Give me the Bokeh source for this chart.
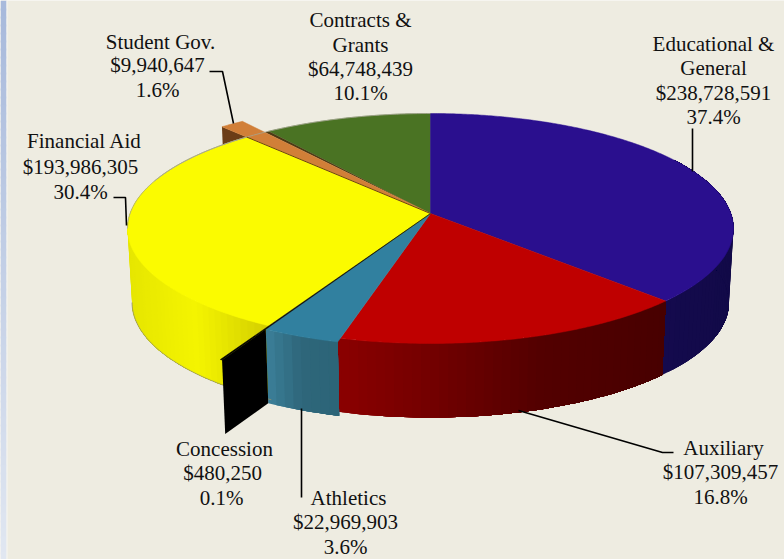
import numpy as np
from bokeh.core.properties import value
from bokeh.embed import file_html
from bokeh.models import Range1d
from bokeh.plotting import figure
from bokeh.resources import INLINE

# Budget by category, clockwise from twelve o'clock
names = ["Educational & General", "Auxiliary", "Athletics", "Concession",
         "Financial Aid", "Student Gov.", "Contracts & Grants"]
amounts = [238728591, 107309457, 22969903, 480250, 193986305, 9940647, 64748439]

top_colors = ["#2a0f8e", "#bf0000", "#31809f", "#000000", "#fbfb00", "#d17f38", "#4a7323"]
radius_scale = [1.0, 1.0, 1.025, 1.2575, 1.0, 1.15, 1.0]

# Label placement: name lines, centre x and centre y of every line
label_lines = [["Educational &", "General"], ["Auxiliary"], ["Athletics"], ["Concession"],
               ["Financial Aid"], ["Student Gov."], ["Contracts &", "Grants"]]
label_x = [[713, 713, 713, 713], [723, 720, 720], [348, 345, 345], [224, 222, 221],
           [84, 80, 80], [160, 157, 157], [360, 360, 360, 360]]
label_y = [[43, 67, 92, 116], [447, 471, 496], [497, 521, 546], [448, 472, 497],
           [140, 166, 191], [41, 64, 89], [19, 44, 68, 92]]

# Leader lines from the labels to the pie
leaders = [([692, 692], [128, 171]),
           ([518, 662, 673], [410, 452, 452]),
           ([301, 301], [408, 497]),
           ([113, 125, 126], [197, 197, 225]),
           ([209, 222, 233], [71, 71, 123])]

# Shaded side wall: (pixel x, colour) stops per slice
wall_stops = {
    0: [(660, "#140a4e"), (733, "#120a48")],
    1: [(340, "#8a0000"), (430, "#730000"), (540, "#530000"), (665, "#480000")],
    2: [(266, "#3b7f98"), (300, "#2e667a"), (340, "#2c6578")],
    4: [(127, "#e6e600"), (195, "#f4f400"), (265, "#d4d000")],
}

BG = "#eeece1"
CX, CY = 430.0, 213.0
A, B, K = 300.4, 113.04, 0.1304
DEPTH, BOTTOM_SCALE = 74.0, 0.985
SILHOUETTE_LEFT = 262.5
ORANGE_INSET = 1.0
WALL_TUCK = 1.5


def project(theta_deg, r=1.0):
    """Perspective view of a point on the tilted disc; theta runs clockwise from the back."""
    t = np.radians(theta_deg)
    u, v = r * np.sin(t), r * np.cos(t)
    w = 1 + K * v
    return CX + A * u / w, CY - B * v / w


def drop(x, y):
    """The same point on the lower face of the disc."""
    return CX + (x - CX) * BOTTOM_SCALE, y + DEPTH


def hex_rgb(c):
    return np.array([int(c[i:i + 2], 16) for i in (1, 3, 5)], dtype=float)


def shade(stops, x):
    xs = [s[0] for s in stops]
    rgb = [np.interp(x, xs, [hex_rgb(s[1])[i] for s in stops]) for i in range(3)]
    return "#%02x%02x%02x" % tuple(int(round(c)) for c in rgb)


total = sum(amounts)
edges = np.concatenate([[0], np.cumsum(amounts) / total * 360.0])

p = figure(width=784, height=559, x_range=Range1d(0, 784), y_range=Range1d(559, 0),
           output_backend="svg", toolbar_location=None, min_border=0,
           background_fill_color=BG, border_fill_color=BG, outline_line_color=None)
p.axis.visible = False
p.grid.visible = False

# Slide-margin band down the left edge
band_y = np.arange(0, 559, 8)
band_t = band_y / 559.0
band_cols = ["#%02x%02x%02x" % (int(168 + 58 * t), int(186 + 46 * t), int(220 + 22 * t)) for t in band_t]
p.quad(left=0, right=6, top=band_y, bottom=band_y + 10, fill_color=band_cols, line_color=None)
p.quad(left=6, right=7, top=0, bottom=559, fill_color="#f6f6f4", line_color=None)

# Brown radial wall of the raised student-government slice, mostly hidden by the top faces
sg = 5
x0, y0 = project(edges[sg], 1.0)
x1, y1 = project(edges[sg], radius_scale[sg])
xb1, yb1 = drop(x1, y1)
xb0, yb0 = drop(x0, y0)
p.patch([x0, x1, xb1, xb0], [y0, y1, yb1, yb0], fill_color="#6b3d17", line_color=None)

# Curved side walls drawn as overlapping shaded strips; the teal wall goes last since it
# stands slightly proud of its neighbours, so the red one runs a little way underneath it
wall_spans = {0: (60.0, edges[1]), 4: (edges[4], 285.0), 1: (edges[1], edges[2] + WALL_TUCK),
              2: (edges[2], edges[3])}
for idx, (a0, a1) in wall_spans.items():
    r = radius_scale[idx]
    angles = np.linspace(a0, a1, max(int((a1 - a0) / 1.5), 2) + 1)
    strip_xs, strip_ys, strip_cols = [], [], []
    for j in range(len(angles) - 1, 0, -1):
        # each strip reaches back to the start of the slice, later strips paint over it
        sweep = np.linspace(a0, angles[j], j + 1)
        xs, ys = project(sweep, r)
        xb, yb = drop(xs, ys)
        strip_xs.append(np.r_[xs, xb[::-1]].tolist())
        strip_ys.append(np.r_[ys, yb[::-1]].tolist())
        xm, _ = project((angles[j - 1] + angles[j]) / 2, r)
        strip_cols.append(shade(wall_stops[idx], xm))
    p.patches(strip_xs, strip_ys, fill_color=strip_cols, line_color=None)

# Grey hairline on the lower rim of the yellow wall
xs, ys = project(np.linspace(edges[4], SILHOUETTE_LEFT, 60))
xb, yb = drop(xs, ys)
p.line(xb, yb, line_color="#8f8f70", line_width=0.8)

# Black radial wall of the raised concession slice
c = 3
x0, y0 = project(edges[c], radius_scale[2])
x1, y1 = project(edges[c], radius_scale[c])
xb1, yb1 = drop(x1, y1)
xb0, yb0 = drop(x0, y0)
p.patch([x0, x1, xb1, xb0], [y0, y1, yb1, yb0], fill_color="#000000", line_color=None)

# Top faces
for i in [6, 5, 0, 1, 2, 4, 3]:
    start, stop = edges[i], edges[i + 1]
    if i == 5:
        # dark seam between the orange slice and the green one
        xe, ye = project(np.array([stop - ORANGE_INSET, stop]), 1.0)
        p.patch([CX, xe[0], xe[1]], [CY, ye[0], ye[1]], fill_color="#4b3a14", line_color=None)
        stop -= ORANGE_INSET
    a = np.linspace(start, stop, max(int(stop - start) * 2, 2))
    xs, ys = project(a, radius_scale[i])
    p.patch(np.r_[CX, xs], np.r_[CY, ys], fill_color=top_colors[i],
            line_color=top_colors[i], line_width=0.5)

# Fine rim along the back of the disc, from the left silhouette round to the top
for a0, a1 in [(SILHOUETTE_LEFT, edges[5]), (edges[6] - 36, 360.0)]:
    xs, ys = project(np.linspace(a0, a1, 80))
    p.line(xs, ys, line_color="#a5a593", line_width=0.8)

# Brown seam under the orange slice
xe, ye = project(edges[5], 1.0)
p.line([CX, xe], [CY, ye], line_color="#6b3d17", line_width=1)

for lx, ly in leaders:
    p.line(lx, ly, line_color="#000000", line_width=1.6)

text_x, text_y, text_s = [], [], []
for i, lines in enumerate(label_lines):
    full = lines + [f"${amounts[i]:,}", f"{amounts[i] / total * 100:.1f}%"]
    text_x += label_x[i]
    text_y += label_y[i]
    text_s += full
p.text(text_x, text_y, text=text_s, text_font=value("Liberation Serif"), text_font_size="21px",
       text_align="center", text_baseline="middle", text_color="#111111")

open("out.html", "w").write(file_html(p, INLINE))
